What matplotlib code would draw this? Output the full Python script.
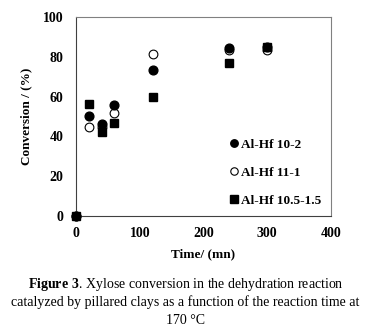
import matplotlib
matplotlib.use('Agg')
import matplotlib.pyplot as plt

plt.rcParams['font.family'] = ['Liberation Serif', 'DejaVu Serif']
plt.rcParams['mathtext.fontset'] = 'custom'
plt.rcParams['mathtext.rm'] = 'Liberation Serif'
plt.rcParams['mathtext.bf'] = 'Liberation Serif:bold'

# Данные (время реакции, мин; конверсия, %)
time_102 = [0, 20, 40, 60, 120, 240, 300]
conv_102 = [0, 50.5, 46.5, 56, 73.5, 84.5, 85]

time_111 = [0, 20, 40, 60, 120, 240, 300]
conv_111 = [0, 45, 45, 52, 81.5, 83.3, 83.5]

time_1015 = [0, 20, 40, 60, 120, 240, 300]
conv_1015 = [0, 56.5, 42.3, 47, 60, 76.7, 85]

labels = ['Al-Hf 10-2', 'Al-Hf 11-1', 'Al-Hf 10.5-1.5']

fig = plt.figure(figsize=(3.71, 3.35), dpi=100)
ax = fig.add_axes([0.205, 0.355, 0.687, 0.594])

ax.plot(time_102, conv_102, 'o', color='black', markersize=6.3, label=labels[0],
        zorder=3, clip_on=False)
ax.plot(time_111, conv_111, 'o', markerfacecolor='white', markeredgecolor='black',
        markeredgewidth=0.8, markersize=6.3, label=labels[1], zorder=2, clip_on=False)
ax.plot(time_1015, conv_1015, 's', color='black', markersize=6.3, label=labels[2],
        zorder=4, clip_on=False)

ax.set_xlim(0, 400)
ax.set_ylim(0, 100)
ax.set_xticks([0, 100, 200, 300, 400])
ax.set_yticks([0, 20, 40, 60, 80, 100])
ax.tick_params(length=0, labelsize=10)
ax.tick_params(axis='y', pad=9)
ax.tick_params(axis='x', pad=8)
for lab in ax.get_xticklabels() + ax.get_yticklabels():
    lab.set_fontweight('bold')
for s in ax.spines.values():
    s.set_color('#808080')
    s.set_linewidth(0.8)
for s in ['left', 'bottom']:
    ax.spines[s].set_color('#404040')

ax.set_xlabel('Time/ (mn)', fontsize=9.5, fontweight='bold', labelpad=6)
ax.set_ylabel('Conversion / (%)', fontsize=9.5, fontweight='bold', labelpad=8)

leg = ax.legend(loc='lower right', frameon=False, handletextpad=0.05,
                labelspacing=1.2, borderaxespad=0.3, handlelength=1.0,
                markerscale=0.85, prop={'weight': 'bold', 'size': 9.5})

fig.text(0.5, 0.152, r'$\bf{Figure\ 3}$. Xylose conversion in the dehydration reaction',
         ha='center', va='center', fontsize=10)
fig.text(0.5, 0.098, 'catalyzed by pillared clays as a function of the reaction time at',
         ha='center', va='center', fontsize=10)
fig.text(0.5, 0.042, '170 °C', ha='center', va='center', fontsize=10)

fig.savefig('out.png', dpi=100)
